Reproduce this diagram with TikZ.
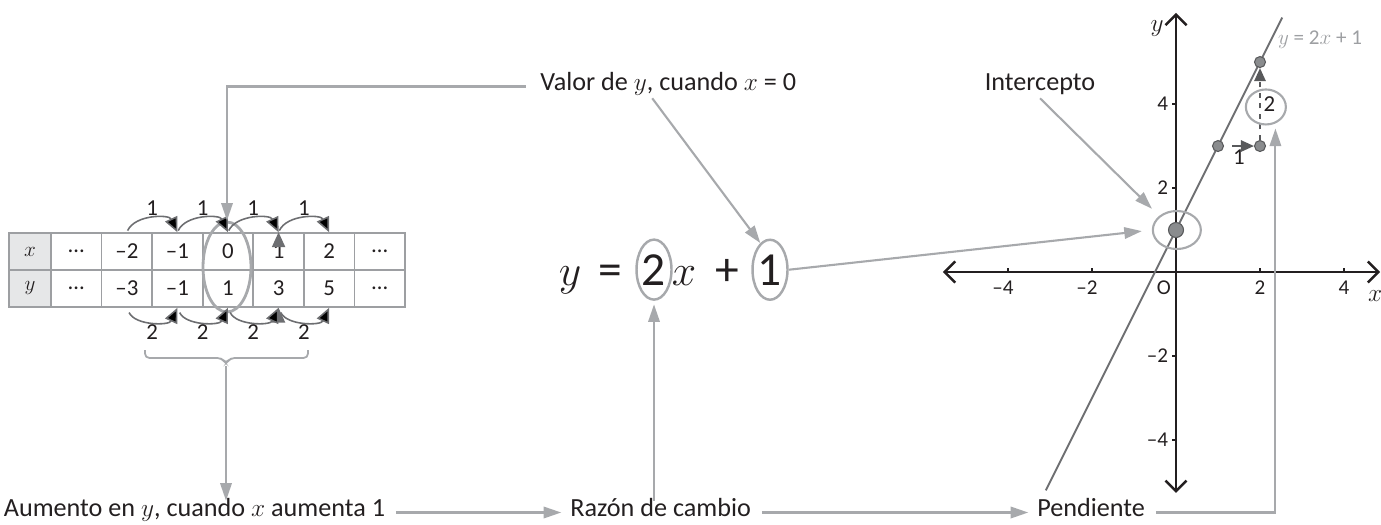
\documentclass[tikz,border=0pt]{standalone}
\usepackage{fontspec}
\setmainfont{Carlito}
\usetikzlibrary{arrows.meta,shapes.geometric}

\definecolor{ink}{HTML}{231F20}
\definecolor{callout}{HTML}{A7A9AC}
\definecolor{hop}{HTML}{6D6E71}
\definecolor{rule}{HTML}{9D9FA2}
\definecolor{shade}{HTML}{E6E7E8}
\definecolor{dotgray}{HTML}{8A8C8E}
\definecolor{dotline}{HTML}{58595B}
\definecolor{eqgray}{HTML}{9D9FA2}

\tikzset{
  lbl/.style={font=\fontsize{14.9}{17}\selectfont, text=ink, inner sep=2pt, text height=0.7em, text depth=0.2em},
  small/.style={font=\fontsize{13}{15}\selectfont, text=ink, inner sep=1.5pt},
  ticklbl/.style={font=\fontsize{12}{14}\selectfont, text=ink, inner sep=1.5pt},
  big/.style={font=\fontsize{27}{30}\selectfont, text=ink, inner sep=0pt, anchor=base},
  cell/.style={draw=rule, line width=0.9pt, minimum width=1.0114cm, minimum height=0.74cm, inner sep=0pt, font=\fontsize{13}{15}\selectfont, text=ink},
  callarrow/.style={draw=callout, line width=1.2pt, -{Triangle[length=10pt,width=6.5pt]}},
  ring/.style={ellipse, draw=callout, line width=1.4pt, inner sep=0pt},
  hopper/.style={draw=hop, line width=0.9pt, -{Triangle[length=8.5pt,width=7.5pt]}},
  axis/.style={draw=ink, line width=1.4pt, {Straight Barb[length=6pt,width=12pt]}-{Straight Barb[length=6pt,width=12pt]}},
  tick/.style={draw=ink, line width=1pt},
  slope/.style={draw=hop, line width=1.1pt},
  dot/.style={circle, draw=dotline, fill=dotgray, line width=0.6pt, inner sep=0pt, minimum size=0.22cm},
  bigdot/.style={dot, minimum size=0.3cm},
  stepper/.style={draw=dotline, line width=1.1pt, -{Triangle[length=7.5pt,width=6.5pt]}}
}

\begin{document}
\begin{tikzpicture}[x=0.02cm, y=0.02cm]
\useasboundingbox (0,-524) rectangle (1381,0);

% table of values
\node[cell, fill=shade, minimum width=0.84cm] (hx) at (30,-251.5) {$x$};
\node[cell, fill=shade, minimum width=0.84cm] (hy) at (30,-288.5) {$y$};
\foreach \xv/\yv [count=\i] in {\dots/\dots, –2/–3, –1/–1, 0/1, 1/3, 2/5, \dots/\dots} {
  \node[cell] (x\i) at ({51+50.57*(\i-0.5)},-251.5) {\xv};
  \node[cell] (y\i) at ({51+50.57*(\i-0.5)},-288.5) {\yv};
}
\node[ring, line width=1.6pt, minimum width=0.96cm, minimum height=1.8cm] (ellcol) at (227,-267) {};

\path[hopper, shorten <=1pt]
(x2.north) edge[bend left=65] node[above, small] {1} (x3.north)
(x3.north) edge[bend left=65] node[above, small] {1} (x4.north)
(x4.north) edge[bend left=65] node[above, small] {1} (x5.north)
(x5.north) edge[bend left=65] node[above, small] {1} (x6.north);

\path[hopper, shorten <=3pt]
(y2.south) edge[bend right=65] node[below, small] {2} (y3.south)
(y3.south) edge[bend right=65] node[below, small] {2} (y4.south)
(y4.south) edge[bend right=65] node[below, small] {2} (y5.south)
(y5.south) edge[bend right=65] node[below, small] {2} (y6.south);

\draw[callout, line width=1pt, rounded corners=2.5pt]
  (145,-350) -- (145,-358) -- (222,-358) -- (226,-364) -- (230,-358) -- (308,-358) -- (308,-350);
\coordinate (brace) at (226,-366);

% equation
\node[big] (eqy) at (570,-285) {$y$};
\node[big] (eqeq) at (610,-285) {=};
\node[big, ring, minimum width=0.7cm, minimum height=1.2cm] (eq2) at (654,-285) {2};
\node[big] (eqx) at (684,-285) {$x$};
\node[big] (eqplus) at (727,-285) {+};
\node[big, ring, minimum width=0.7cm, minimum height=1.2cm] (eq1) at (770,-285) {1};

% labels
\node[lbl, anchor=west] (valor) at (536.5,-86.5) {Valor de $y$, cuando $x$ = 0};
\node[lbl] (intercepto) at (1040,-86.5) {Intercepto};
\node[lbl, anchor=west] (aumento) at (0,-512.5) {Aumento en $y$, cuando $x$ aumenta 1};
\node[lbl, anchor=west] (razon) at (566.5,-512.5) {Razón de cambio};
\node[lbl, anchor=west] (pendiente) at (1033.5,-512.5) {Pendiente};

% coordinate plane
\begin{scope}[shift={(1176,-272)}, x=0.84cm, y=0.84cm]
  \draw[axis] (-5.55,0) -- (4.86,0);
  \draw[axis] (0,-5.26) -- (0,6.17);
  \foreach \t/\s/\dx [count=\i] in {-4/–4/-0.12, -2/–2/-0.12, 2/2/0, 4/4/0} {
    \draw[tick] (\t,0) -- (\t,0.1);
    \draw[tick] (0,\t) -- (-0.1,\t);
    \node[ticklbl] (xt\i) at (\t+\dx,-0.38) {\s};
    \node[ticklbl, anchor=east] (yt\i) at (-0.12,\t) {\s};
  }
  \node[ticklbl] (origin) at (-0.29,-0.38) {O};
  \node[lbl, inner sep=0pt] (xname) at (4.74,-0.6) {$x$};
  \node[lbl, inner sep=0pt] (yname) at (-0.45,5.83) {$y$};

  \draw[slope] (-3.1,-5.2) -- (2.53,6.06);
  \node[ticklbl, text=eqgray, anchor=west] (rule) at (2.36,5.52) {$y$ = 2$x$ + 1};

  \node[bigdot] (p0) at (0,1) {};
  \node[dot] (p1) at (1,3) {};
  \node[dot] (p2) at (2,3) {};
  \node[dot] (p3) at (2,5) {};

  \draw[stepper, shorten <=0.16cm] (p1) -- (p2) node[midway, below, small] (run) {1};
  \draw[stepper, dashed] (p2) -- (p3) node[midway, right, small] (rise) {2};

  \node[ring, line width=1.2pt, minimum width=0.96cm, minimum height=0.76cm] (ell0) at (0.02,1) {};
  \node[ring, line width=1.2pt, minimum width=0.8cm, minimum height=0.7cm] (ell2) at (2.14,3.93) {};
\end{scope}

% callouts
\draw[callarrow, shorten <=6pt] (valor.west) -| (ellcol.north);
\draw[callarrow] ([xshift=-0.32cm]valor.south) -- (eq1.110);
\draw[callarrow, shorten >=0.2cm] (eq1.east) -- (ell0.west);
\draw[callarrow, shorten >=0.2cm] (intercepto.south) -- (ell0.north west);
\draw[callarrow] (brace) -- (brace |- aumento.north);
\draw[callarrow, shorten <=4pt, shorten >=3pt] (aumento.east) -- (aumento.east -| razon.west);
\draw[callarrow, shorten >=2pt] (razon.north -| eq2.south) -- (eq2.south);
\draw[callarrow, shorten <=4pt, shorten >=3pt] (razon.east) -- (razon.east -| pendiente.west);
\draw[callarrow, shorten <=4pt, shorten >=0.1cm] (pendiente.east) -| (ell2.-60);

\end{tikzpicture}
\end{document}
